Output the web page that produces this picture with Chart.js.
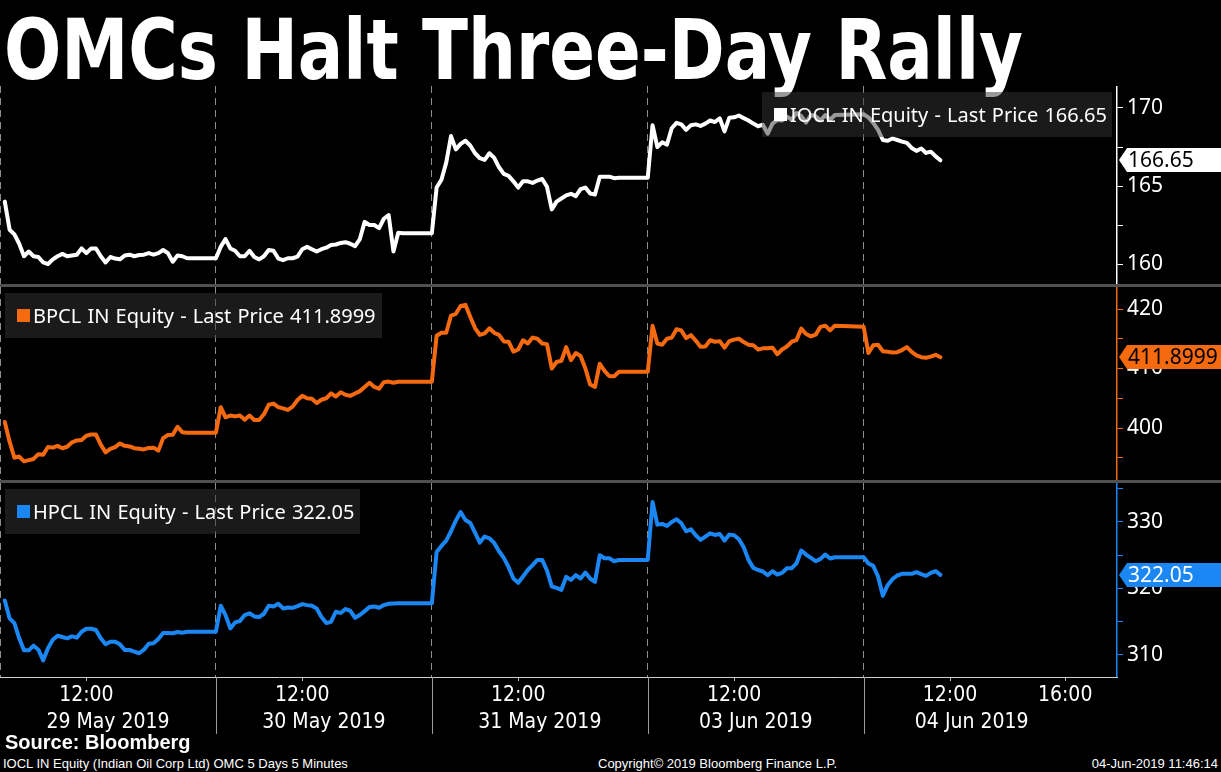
<!DOCTYPE html>
<html>
<head>
<meta charset="utf-8">
<title>OMCs Halt Three-Day Rally</title>
<script src="https://cdn.jsdelivr.net/npm/chart.js@4.4.1/dist/chart.umd.min.js"></script>
<style>
  body { margin: 0; background: #000; width: 1221px; height: 772px; overflow: hidden; position: relative; color: #fff; font-family: "Noto Sans", sans-serif; }
  .abs { position: absolute; }
  #title { left: 4px; top: 8px; font: bold 84px "DejaVu Sans", sans-serif; line-height: 84px; white-space: nowrap; transform-origin: 0 0; }
  .sep { left: 0; width: 1221px; height: 3px; background: #505050; }
  .leg { height: 45px; display: flex; align-items: center; padding-left: 12px; box-sizing: border-box; background: rgba(52,52,52,0.5); font-size: 20px; word-spacing: 1px; white-space: nowrap; z-index: 2; }
  .sq { display: inline-block; width: 13px; height: 13px; margin-right: 3px; }
  .foot { font-family: "Liberation Sans", sans-serif; white-space: nowrap; }
</style>
</head>
<body>
<div id="title" class="abs">OMCs Halt Three-Day Rally</div>

<canvas id="ioclChart" class="abs" style="left:0;top:86px" width="1221" height="198"></canvas>
<div class="abs sep" style="top:284px"></div>
<canvas id="bpclChart" class="abs" style="left:0;top:287px" width="1221" height="193"></canvas>
<div class="abs sep" style="top:480px"></div>
<canvas id="hpclChart" class="abs" style="left:0;top:483px" width="1221" height="253"></canvas>

<div id="ioclLegend" class="abs leg" style="left:762px;top:92px;width:350px"></div>
<div id="bpclLegend" class="abs leg" style="left:5px;top:293px;width:377px"></div>
<div id="hpclLegend" class="abs leg" style="left:5px;top:489px;width:355px"></div>

<div class="abs foot" style="left:5px;top:731px;font-size:20px;font-weight:bold">Source: Bloomberg</div>
<div class="abs foot" style="left:3px;top:756px;font-size:13px">IOCL IN Equity (Indian Oil Corp Ltd) OMC 5 Days 5 Minutes</div>
<div class="abs foot" style="left:598px;top:756px;font-size:13px">Copyright&copy; 2019 Bloomberg Finance L.P.</div>
<div class="abs foot" style="right:3px;top:756px;font-size:13px">04-Jun-2019 11:46:14</div>

<script>
// trading days and the 10-minute bars (16:30 = price held until next open)
const dates = ['29 May 2019', '30 May 2019', '31 May 2019', '03 Jun 2019', '04 Jun 2019'];
const sessionTimes = ['09:10', '09:20', '09:30', '09:40', '09:50', '10:00', '10:10', '10:20', '10:30', '10:40',
  '10:50', '11:00', '11:10', '11:20', '11:30', '11:40', '11:50', '12:00', '12:10', '12:20',
  '12:30', '12:40', '12:50', '13:00', '13:10', '13:20', '13:30', '13:40', '13:50', '14:00',
  '14:10', '14:20', '14:30', '14:40', '14:50', '15:00', '15:10', '15:20', '15:30', '16:30'];

const ioclPrices = [
  [164.0, 162.2, 161.9, 161.3, 160.5, 160.8, 160.5, 160.45, 160.1, 160.0, 160.3, 160.5, 160.65, 160.5, 160.55, 160.6, 161.0, 160.7, 161.0, 161.0,
   160.5, 160.1, 160.45, 160.35, 160.3, 160.55, 160.6, 160.5, 160.58, 160.6, 160.7, 160.6, 160.7, 160.9, 160.7, 160.15, 160.55, 160.5, 160.37, 160.37],
  [161.1, 161.6, 161.0, 160.85, 160.5, 160.5, 160.85, 160.45, 160.3, 160.5, 160.9, 160.85, 160.35, 160.25, 160.37, 160.37, 160.47, 160.95, 161.1, 160.95,
   160.8, 160.95, 161.05, 161.22, 161.25, 161.35, 161.4, 161.3, 161.15, 161.6, 162.7, 162.5, 162.5, 162.3, 162.9, 163.14, 160.8, 162.0, 161.97, 161.97],
  [164.9, 165.4, 166.5, 168.2, 167.35, 167.7, 167.9, 167.6, 167.1, 166.78, 166.67, 167.1, 166.8, 166.2, 165.78, 165.65, 165.3, 164.9, 165.3, 165.3,
   165.2, 165.35, 165.45, 164.95, 163.5, 164.0, 164.2, 164.4, 164.5, 164.35, 164.8, 164.9, 164.52, 164.45, 165.6, 165.6, 165.6, 165.5, 165.53, 165.53],
  [168.9, 167.5, 167.8, 167.65, 168.7, 169.05, 168.95, 168.6, 168.9, 168.95, 168.85, 169.0, 169.2, 169.1, 169.34, 168.5, 169.38, 169.4, 169.52, 169.35,
   169.2, 169.0, 168.83, 168.93, 168.35, 169.0, 169.23, 169.2, 169.45, 169.25, 169.68, 169.47, 169.07, 169.55, 169.48, 169.2, 169.55, 169.25, 169.55, 169.6],
  [169.4, 169.05, 168.6, 167.95, 167.9, 168.05, 167.95, 167.85, 167.76, 167.44, 167.25, 167.4, 167.12, 167.2, 166.9, 166.65]
];

const bpclPrices = [
  [401.0, 397.7, 395.0, 395.2, 394.4, 394.6, 394.8, 395.6, 395.5, 396.8, 396.7, 397.0, 396.6, 396.85, 397.6, 397.9, 398.0, 398.7, 398.9, 398.9,
   397.2, 395.9, 396.5, 396.8, 397.4, 397.0, 396.9, 396.6, 396.5, 396.4, 396.65, 396.7, 396.2, 398.3, 398.82, 398.85, 400.2, 399.3, 399.21, 399.21],
  [403.5, 401.8, 402.1, 401.95, 402.1, 401.4, 402.1, 401.35, 401.35, 402.3, 403.9, 404.1, 403.5, 403.3, 403.05, 403.6, 404.7, 405.4, 405.0, 404.9,
   404.2, 404.75, 405.0, 405.83, 405.3, 406.0, 405.6, 405.4, 405.8, 406.2, 406.9, 407.6, 406.9, 406.6, 407.7, 407.8, 407.6, 407.78, 407.78, 407.78],
  [415.5, 416.0, 416.0, 418.9, 419.2, 420.5, 420.7, 418.7, 416.8, 415.65, 415.9, 416.76, 416.0, 415.65, 414.55, 414.5, 412.85, 413.2, 414.75, 414.2,
   415.2, 415.0, 414.2, 414.1, 410.0, 411.1, 411.3, 413.6, 411.4, 412.6, 412.1, 410.0, 407.3, 406.9, 410.8, 409.6, 408.7, 408.7, 409.46, 409.46],
  [417.2, 414.2, 414.0, 415.0, 415.2, 416.6, 416.4, 415.1, 415.6, 414.7, 413.66, 413.7, 414.75, 414.5, 414.6, 413.5, 414.6, 414.85, 415.0, 414.45,
   414.0, 413.9, 413.2, 413.39, 413.4, 413.5, 412.4, 413.2, 413.7, 414.5, 414.79, 416.7, 415.8, 415.4, 415.7, 417.0, 417.2, 416.4, 417.2, 417.0],
  [412.6, 413.9, 414.0, 412.9, 412.8, 412.7, 412.75, 413.1, 413.6, 412.8, 412.2, 411.9, 411.8, 412.0, 412.3, 411.8999]
];

const hpclPrices = [
  [318.2, 315.5, 314.8, 312.5, 310.7, 310.7, 311.4, 310.8, 309.2, 311.0, 312.3, 312.9, 312.7, 312.5, 312.8, 312.6, 313.5, 313.95, 313.95, 313.75,
   312.5, 311.6, 312.0, 312.0, 311.6, 310.75, 310.75, 310.5, 310.26, 310.8, 311.7, 311.76, 312.4, 313.3, 313.3, 313.26, 313.45, 313.35, 313.5, 313.5],
  [317.4, 316.0, 314.0, 314.9, 315.1, 316.0, 316.27, 315.8, 315.7, 316.2, 317.4, 317.3, 317.7, 317.0, 317.15, 317.1, 317.35, 317.65, 317.5, 317.4,
   317.0, 315.7, 314.8, 315.0, 316.5, 316.3, 316.9, 316.65, 315.6, 316.0, 316.6, 317.2, 317.3, 317.1, 317.5, 317.7, 317.75, 317.77, 317.77, 317.77],
  [325.5, 326.4, 327.2, 328.6, 330.2, 331.5, 330.3, 329.85, 328.4, 326.9, 327.8, 327.55, 326.85, 325.6, 324.6, 323.2, 321.5, 320.85, 321.8, 322.78,
   323.5, 324.29, 324.29, 322.7, 320.3, 320.1, 319.8, 321.75, 321.3, 322.0, 321.5, 322.4, 321.5, 321.0, 325.0, 324.54, 324.54, 324.1, 324.29, 324.29],
  [333.0, 329.6, 329.7, 329.4, 330.0, 330.4, 329.8, 328.6, 328.9, 328.0, 327.3, 327.8, 328.3, 328.05, 328.2, 327.2, 328.1, 328.0, 327.4, 326.2,
   324.3, 323.1, 322.78, 322.55, 322.0, 322.6, 322.1, 322.35, 323.04, 323.05, 323.79, 325.7, 325.1, 324.6, 324.1, 324.45, 325.1, 324.5, 324.69, 324.69],
  [323.75, 323.4, 321.8, 318.9, 320.5, 321.4, 321.95, 322.2, 322.2, 322.2, 322.45, 322.15, 321.9, 322.35, 322.6, 322.05]
];

// axis ticks
const timeTicks = [[0, '12:00'], [1, '12:00'], [2, '12:00'], [3, '12:00'], [4, '12:00'], [4, '16:00']];
const axisEnd = [4, '17:48'];
const ioclTicks = [160, 162.5, 165, 167.5, 170];
const bpclTicks = [395, 400, 405, 410, 415, 420];
const hpclTicks = [310, 315, 320, 325, 330, 335];

const colors = { iocl: '#ffffff', bpcl: '#f5690f', hpcl: '#1b87f5' };
const narrowFont = { family: '"Liberation Sans Narrow", "DejaVu Sans Condensed", "Liberation Sans", sans-serif', size: 21 };

Chart.defaults.font.family = 'Noto Sans';

// each session is drawn from 09:00 to 16:30, days packed side by side
function sessionX(day, hhmm) {
    const [h, m] = hhmm.split(':').map(Number);
    return day * 7.5 + h + m / 60 - 9;
}

function toPoints(prices) {
    return prices.flatMap((day, d) => day.map((v, i) => ({ x: sessionX(d, sessionTimes[i]), y: v })));
}

const xEnd = sessionX(axisEnd[0], axisEnd[1]);

// small coloured box with the last price on the right axis
const lastPriceTag = {
    id: 'lastPriceTag',
    afterDraw(chart, args, opts) {
        const ctx = chart.ctx;
        const y = Math.round(chart.scales.y.getPixelForValue(opts.value));
        const x0 = chart.chartArea.right + 2;
        ctx.save();
        ctx.fillStyle = opts.bg;
        ctx.beginPath();
        ctx.moveTo(x0, y);
        ctx.lineTo(x0 + 8, y - 12);
        ctx.lineTo(chart.width, y - 12);
        ctx.lineTo(chart.width, y + 12);
        ctx.lineTo(x0 + 8, y + 12);
        ctx.closePath();
        ctx.fill();
        ctx.fillStyle = opts.fg;
        ctx.font = '21px "Noto Sans"';
        ctx.textBaseline = 'middle';
        ctx.fillText(opts.text, x0 + 9, y + 1);
        ctx.restore();
    }
};

// solid day separators under the plot, on the time axis
const daySeparators = {
    id: 'daySeparators',
    afterDraw(chart) {
        const s = chart.scales.xDays;
        if (!s) return;
        const ctx = chart.ctx;
        ctx.save();
        ctx.strokeStyle = '#9a9a9a';
        ctx.lineWidth = 1;
        s.ticks.forEach((t, i) => {
            if (i === 0) return;
            const x = Math.round(s.getPixelForValue(t.value)) + 0.5;
            ctx.beginPath();
            ctx.moveTo(x, chart.chartArea.bottom);
            ctx.lineTo(x, chart.height - 2);
            ctx.stroke();
        });
        ctx.restore();
    }
};

function noSidePadding(s) {
    s.paddingLeft = 0;
    s.paddingRight = 0;
}

function dayGridAxis(withLabels) {
    return {
        type: 'linear', min: 0, max: xEnd, position: 'bottom', weight: 1,
        afterBuildTicks: s => { s.ticks = dates.map((d, i) => ({ value: i * 7.5 })); },
        afterFit: s => { s.height = withLabels ? 29 : 0; noSidePadding(s); },
        ticks: {
            display: withLabels, autoSkip: false, maxRotation: 0, padding: 3,
            labelOffset: 108, color: '#fff', font: narrowFont,
            callback: (v, i) => dates[i]
        },
        grid: { color: '#8c8c8c', lineWidth: 1, drawTicks: false },
        border: { display: false, dash: [7, 5] }
    };
}

function makePanel(id, prices, color, range, ticks, labelStep, tag, withTimeAxis) {
    const scales = {
        y: {
            position: 'right', min: range[0], max: range[1],
            afterBuildTicks: s => { s.ticks = ticks.map(v => ({ value: v })); },
            afterFit: s => { s.width = 104; s.paddingTop = 0; s.paddingBottom = 0; },
            ticks: {
                color: '#fff', font: { size: 21 }, padding: 4, autoSkip: false,
                callback: v => (Math.abs(v % labelStep) < 1e-9 ? v : '')
            },
            grid: { drawOnChartArea: false, drawTicks: true, tickLength: 6, tickColor: color },
            border: { display: true, color: color, width: 1.5 }
        }
    };
    if (withTimeAxis) {
        scales.x = {
            type: 'linear', min: 0, max: xEnd, position: 'bottom', weight: 0,
            afterBuildTicks: s => { s.ticks = timeTicks.map(([d, t]) => ({ value: sessionX(d, t) })); },
            afterFit: s => { s.height = 30; noSidePadding(s); },
            ticks: {
                autoSkip: false, maxRotation: 0, padding: 2, color: '#fff', font: narrowFont,
                callback: (v, i) => timeTicks[i][1]
            },
            grid: { drawOnChartArea: false, drawTicks: true, tickLength: 4, tickColor: '#bbbbbb' },
            border: { display: true, color: '#d0d0d0', width: 1 }
        };
        scales.xDays = dayGridAxis(true);
    } else {
        scales.x = dayGridAxis(false);
    }

    return new Chart(document.getElementById(id), {
        type: 'line',
        data: {
            datasets: [{
                data: toPoints(prices),
                borderColor: color,
                borderWidth: 4,
                pointRadius: 0,
                tension: 0,
                borderJoinStyle: 'round',
                borderCapStyle: 'round'
            }]
        },
        options: {
            responsive: false,
            animation: false,
            events: [],
            layout: { padding: 0 },
            scales: scales,
            plugins: {
                legend: { display: false },
                tooltip: { enabled: false },
                lastPriceTag: tag
            }
        },
        plugins: [lastPriceTag, daySeparators]
    });
}

function lastOf(prices) {
    const day = prices[prices.length - 1];
    return day[day.length - 1];
}

function fillLegend(id, name, color, prices) {
    const el = document.getElementById(id);
    el.innerHTML = '<span class="sq" style="background:' + color + '"></span>' +
        name + ' - Last Price ' + lastOf(prices);
}

fillLegend('ioclLegend', 'IOCL IN Equity', colors.iocl, ioclPrices);
fillLegend('bpclLegend', 'BPCL IN Equity', colors.bpcl, bpclPrices);
fillLegend('hpclLegend', 'HPCL IN Equity', colors.hpcl, hpclPrices);

makePanel('ioclChart', ioclPrices, colors.iocl, [158.72, 171.41], ioclTicks, 5,
    { value: lastOf(ioclPrices), text: String(lastOf(ioclPrices)), bg: '#ffffff', fg: '#000000' }, false);
makePanel('bpclChart', bpclPrices, colors.bpcl, [391.26, 423.7], bpclTicks, 10,
    { value: lastOf(bpclPrices), text: String(lastOf(bpclPrices)), bg: colors.bpcl, fg: '#000000' }, false);
makePanel('hpclChart', hpclPrices, colors.hpcl, [306.69, 335.86], hpclTicks, 10,
    { value: lastOf(hpclPrices), text: String(lastOf(hpclPrices)), bg: colors.hpcl, fg: '#ffffff' }, true);

// squeeze the headline to the width it has in the original
const title = document.getElementById('title');
title.style.transform = 'scaleX(' + (1019 / title.getBoundingClientRect().width) + ')';
</script>
</body>
</html>
